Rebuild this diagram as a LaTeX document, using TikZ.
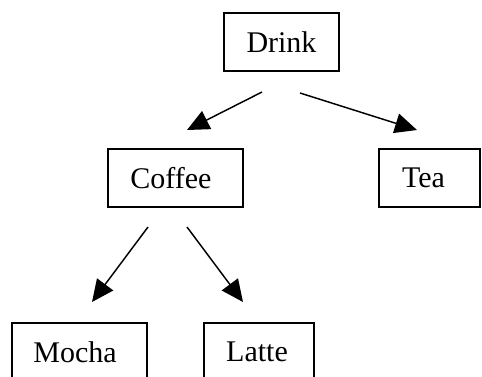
\documentclass[tikz,border=0pt]{standalone}
\usepackage{fontspec}
\setmainfont{Liberation Serif}
\usetikzlibrary{arrows.meta}
\begin{document}
\begin{tikzpicture}[x=0.75pt,y=-0.75pt,
  box/.style={draw=black,line width=1.1pt,rectangle,inner sep=0pt,
    font=\fontsize{22.5pt}{27pt}\selectfont},
  conn/.style={line width=1.1pt,-{Triangle[length=16.5pt,width=15pt]}}]
\useasboundingbox (0,0) rectangle (482,376);
\clip (0,0) rectangle (482,376);
\node[box,minimum width=115*0.75pt,minimum height=58*0.75pt] (drink) at (281.5,42) {Drink};
\node[box,minimum width=135*0.75pt,minimum height=58*0.75pt] (coffee) at (175.5,178) {\kern-6.75pt Coffee};
\node[box,minimum width=101*0.75pt,minimum height=58*0.75pt] (tea) at (429.5,178) {\kern-9pt Tea};
\node[box,minimum width=135*0.75pt,minimum height=58*0.75pt] (mocha) at (79.5,352) {\kern-6.75pt Mocha};
\node[box,minimum width=110*0.75pt,minimum height=58*0.75pt] (latte) at (259,352) {\kern-3pt Latte};
\coordinate (d1) at (262,92);
\coordinate (d2) at (300,93);
\coordinate (c1) at (148,227);
\coordinate (c2) at (187,227);
\coordinate (tc) at (187,130);
\coordinate (tt) at (417,130);
\coordinate (tm) at (92,302);
\coordinate (tl) at (243,302);
\draw[conn] (d1) -- (tc);
\draw[conn] (d2) -- (tt);
\draw[conn] (c1) -- (tm);
\draw[conn] (c2) -- (tl);
\end{tikzpicture}
\end{document}
